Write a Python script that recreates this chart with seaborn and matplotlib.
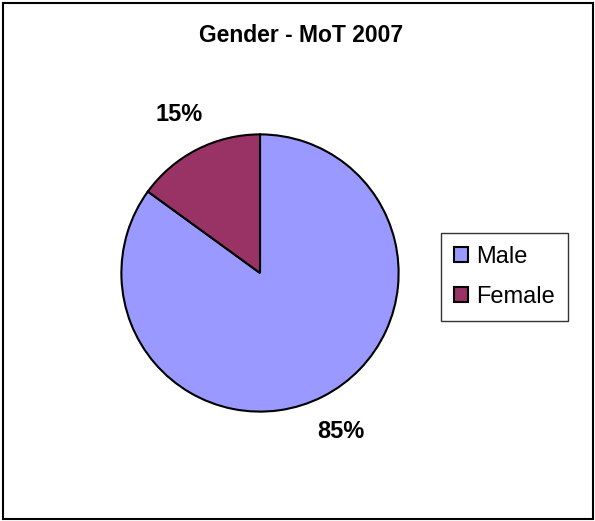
import matplotlib
matplotlib.use("Agg")
import matplotlib.pyplot as plt
import seaborn as sns

# data
labels = ["Male", "Female"]
values = [85, 15]
colors = ["#9999FF", "#993366"]
title = "Gender - MoT 2007"

sns.set_theme(style="white")
plt.rcParams["font.family"] = ["Liberation Sans", "DejaVu Sans"]
plt.rcParams["text.color"] = "black"

fig = plt.figure(figsize=(5.95, 5.21), dpi=100)
ax = fig.add_axes([120 / 595, 1 - 413 / 521, 280 / 595, 280 / 521])

wedges, texts, autotexts = ax.pie(
    values, colors=colors, startangle=90, counterclock=False,
    autopct="%1.0f%%", pctdistance=1.28, radius=1,
    wedgeprops=dict(edgecolor="black", linewidth=1.5),
    textprops=dict(fontsize=17, fontweight="bold", color="black"),
)
ax.set_xlim(-1.01, 1.01)
ax.set_ylim(-1.01, 1.01)
ax.set_aspect("equal")
ax.axis("off")

fig.text(301 / 595, 1 - 36 / 521, title, ha="center", va="center",
         fontsize=16.5, fontweight="bold", color="black")

leg = fig.legend(wedges, labels, loc="center left",
                 bbox_to_anchor=(441 / 595, 1 - 277 / 521),
                 fontsize=17, frameon=True, fancybox=False,
                 handlelength=0.6, handleheight=0.6, handletextpad=0.35,
                 labelspacing=0.75, borderpad=0.55, borderaxespad=0,
                 labelcolor="black")
leg.get_frame().set_edgecolor("black")
leg.get_frame().set_linewidth(1.0)
for h in leg.legend_handles:
    h.set_linewidth(1.5)

fig.add_artist(plt.Rectangle((3 / 595, 2 / 521), 590 / 595, 516 / 521,
                             transform=fig.transFigure, fill=False,
                             edgecolor="black", linewidth=1.5))

fig.savefig("out.png", dpi=100)
